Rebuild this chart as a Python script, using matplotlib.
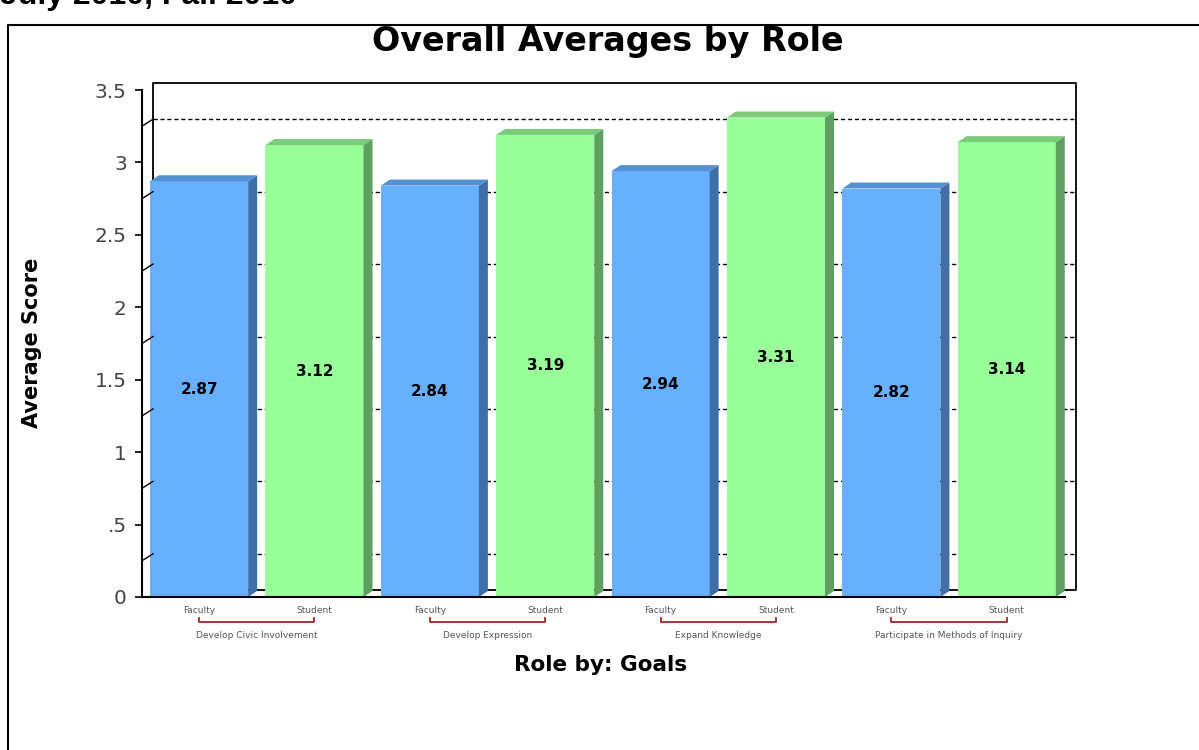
import matplotlib.pyplot as plt
import matplotlib.transforms as mtransforms
from matplotlib.patches import Polygon
from matplotlib.lines import Line2D

# Data
groups = ["Develop Civic Involvement", "Develop Expression",
          "Expand Knowledge", "Participate in Methods of Inquiry"]
roles = ["Faculty", "Student"]
faculty = [2.87, 2.84, 2.94, 2.82]
student = [3.12, 3.19, 3.31, 3.14]
ytick_vals = [0, 0.5, 1, 1.5, 2, 2.5, 3, 3.5]
ytick_labels = ["0", ".5", "1", "1.5", "2", "2.5", "3", "3.5"]
grid_vals = [0.25, 0.75, 1.25, 1.75, 2.25, 2.75, 3.25]

# Style
FRONT = {"Faculty": "#66b0ff", "Student": "#99ff99"}
SIDE = {"Faculty": "#3f6fa6", "Student": "#5f9f5f"}
TOP = {"Faculty": "#5590d2", "Student": "#7acb7a"}
BAR_W = 0.85
BAR_OFF = 0.07
DEPTH_X, DEPTH_Y = 9, 6      # bar depth in pixels
WALL_X, WALL_Y = 11, 7       # back wall offset in pixels

W, H, DPI = 1199, 750, 100
fig = plt.figure(figsize=(W / DPI, H / DPI), dpi=DPI)
ax_l, ax_r, ax_b, ax_t = 142, 1065, 597, 90
ax = fig.add_axes([ax_l / W, 1 - ax_b / H, (ax_r - ax_l) / W, (ax_b - ax_t) / H])

n_slots = len(groups) * len(roles)
ax.set_xlim(0, n_slots)
ax.set_ylim(0, 3.5)

px_x = (ax_r - ax_l) / n_slots
px_y = (ax_b - ax_t) / 3.5
dxd, dyd = DEPTH_X / px_x, DEPTH_Y / px_y

wall = ax.transData + mtransforms.ScaledTranslation(WALL_X / DPI, WALL_Y / DPI, fig.dpi_scale_trans)

# back wall frame and dashed grid
ax.plot([0, 0, n_slots, n_slots, 0], [0, 3.5, 3.5, 0, 0], color="black", lw=1.3,
        transform=wall, zorder=1, clip_on=False)
for g in grid_vals:
    ax.plot([0, n_slots], [g, g], color="black", lw=1.0, ls=(0, (3, 2)),
            transform=wall, zorder=1, clip_on=False)
    # slanted connector from front axis to the back wall
    p0 = ax.transData.transform((0, g))
    ax.add_artist(Line2D([p0[0] - 3, p0[0], p0[0] + WALL_X], [p0[1] - 1, p0[1], p0[1] + WALL_Y],
                         color="black", lw=1.0, transform=None, zorder=3))

# bars
for gi in range(len(groups)):
    for ri, role in enumerate(roles):
        v = faculty[gi] if role == "Faculty" else student[gi]
        x0 = (gi * 2 + ri) + BAR_OFF
        x1 = x0 + BAR_W
        ax.bar(x0, v, width=BAR_W, align="edge", color=FRONT[role], zorder=2, lw=0)
        ax.add_patch(Polygon([(x1, 0), (x1 + dxd, dyd), (x1 + dxd, v + dyd), (x1, v)],
                             closed=True, color=SIDE[role], lw=0, zorder=2))
        ax.add_patch(Polygon([(x0, v), (x0 + dxd, v + dyd), (x1 + dxd, v + dyd), (x1, v)],
                             closed=True, color=TOP[role], lw=0, zorder=2))
        ax.text((x0 + x1) / 2, v / 2, f"{v:.2f}", ha="center", va="center",
                fontsize=11, fontweight="bold", color="black", zorder=5)

# axes
for s in ["top", "right"]:
    ax.spines[s].set_visible(False)
for s in ["left", "bottom"]:
    ax.spines[s].set_linewidth(1.5)
    ax.spines[s].set_zorder(4)
ax.set_facecolor("none")
ax.set_yticks(ytick_vals)
ax.set_yticklabels(ytick_labels, fontsize=14.5, color="#444444")
ax.tick_params(axis="y", length=5, width=1.2, pad=6)
ax.set_xticks([])

# category labels with brackets
xfrac = ax.get_xaxis_transform()
for gi, grp in enumerate(groups):
    c0 = gi * 2 + BAR_OFF + BAR_W / 2
    c1 = c0 + 1
    for ri, role in enumerate(roles):
        ax.text(c0 + ri, -0.0276, role, transform=xfrac, ha="center", va="center",
                fontsize=6.5, color="#555555")
    ax.plot([c0, c0, c1, c1], [-0.041, -0.0493, -0.0493, -0.041], color="#a02828",
            lw=1.3, transform=xfrac, clip_on=False)
    ax.text((c0 + c1) / 2, -0.0769, grp, transform=xfrac, ha="center", va="center",
            fontsize=6.5, color="#555555")

ax.text(0.497, -0.134, "Role by: Goals", transform=ax.transAxes, ha="center", va="center",
        fontsize=15.5, fontweight="bold")

fig.text(32 / W, 1 - 343 / H, "Average Score", rotation=90, ha="center", va="center",
         fontsize=15, fontweight="bold")
fig.text(608 / W, 1 - 42 / H, "Overall Averages by Role", ha="center", va="center",
         fontsize=24, fontweight="bold")

# outer border and clipped page header (cut off at the top, as in the source page)
fig.add_artist(Line2D([8 / W, 8 / W, 1.0], [0, 1 - 25 / H, 1 - 25 / H], color="black", lw=1.5))
fig.text(0, 1 - 4 / H, "July 2010, Fall 2010", ha="left", va="baseline",
         fontsize=23, fontweight="bold", family="Liberation Sans")

fig.savefig("out.png", dpi=DPI)
